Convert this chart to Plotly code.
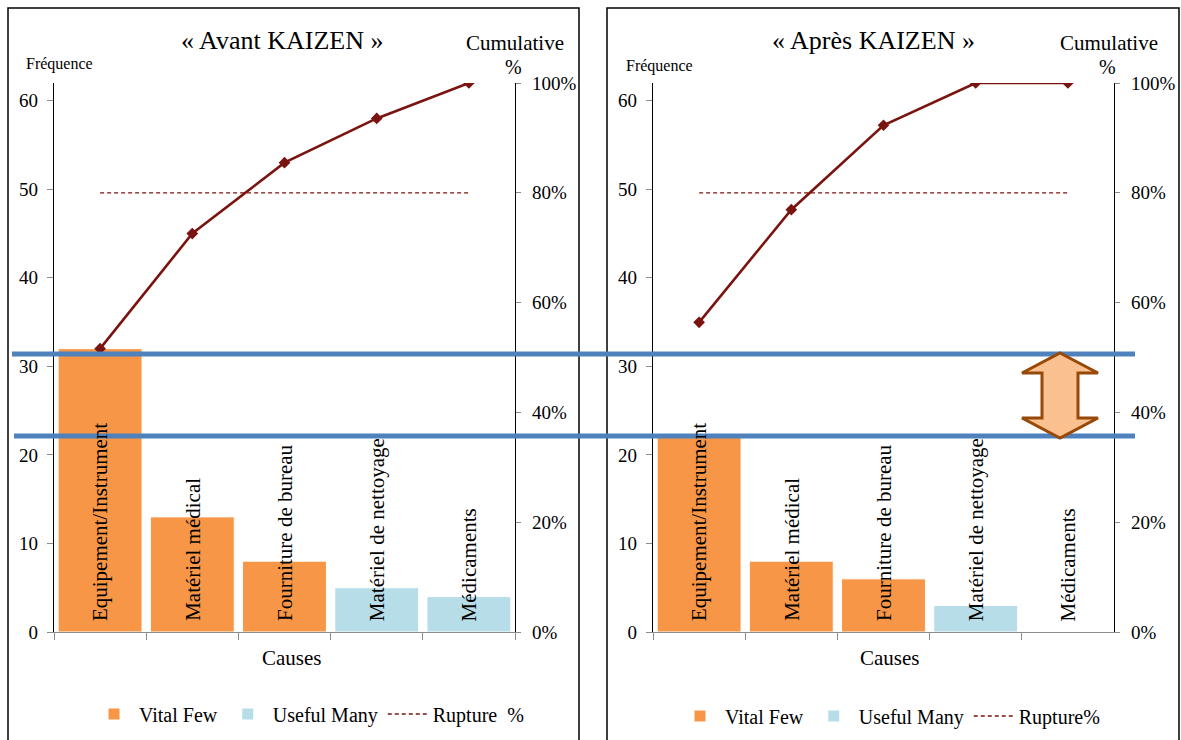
import numpy as np
import plotly.graph_objects as go

W, H = 1181, 740

causes = ["Equipement/Instrument", "Matériel médical", "Fourniture de bureau",
          "Matériel de nettoyage", "Médicaments"]
freq_avant = [32, 13, 8, 5, 4]
freq_apres = [22, 8, 6, 3, 0]
n_vital = 3              # first n causes are the "Vital Few"
rupture_level = 0.80     # Pareto break line
freq_ticks = [0, 10, 20, 30, 40, 50, 60]
pct_ticks = [0, 0.2, 0.4, 0.6, 0.8, 1.0]
pct_labels = ["0%", "20%", "40%", "60%", "80%", "100%"]
titles = ["« Avant KAIZEN »", "« Après KAIZEN »"]
rupture_names = ["Rupture  %", "Rupture%"]

ORANGE = "#F79646"
LBLUE = "#B7DDE8"
MAROON = "#7A1410"
BLUE = "#4F81BD"
FONT = "Liberation Serif"

freq_max = float(sum(freq_avant))  # left axis scaled to the "avant" total


def px(x):
    return x / W


def py(y):
    return 1 - y / H


fig = go.Figure()

panels = [
    dict(data=freq_avant, xa="x", ya="y", ya2="y2", legend="legend",
         dom=[px(54), px(515)]),
    dict(data=freq_apres, xa="x2", ya="y3", ya2="y4", legend="legend2",
         dom=[px(653), px(1114)]),
]

for i, p in enumerate(panels):
    vals = p["data"]
    cum = np.cumsum(vals) / np.sum(vals)
    fig.add_trace(go.Bar(x=causes[:n_vital], y=vals[:n_vital], name="Vital Few",
                         marker=dict(color=ORANGE, line=dict(color="white", width=1)),
                         xaxis=p["xa"], yaxis=p["ya"], legend=p["legend"]))
    fig.add_trace(go.Bar(x=causes[n_vital:], y=vals[n_vital:], name="Useful Many",
                         marker=dict(color=LBLUE, line=dict(color="white", width=1)),
                         xaxis=p["xa"], yaxis=p["ya"], legend=p["legend"]))
    fig.add_trace(go.Scatter(x=[causes[0], causes[-1]], y=[rupture_level, rupture_level],
                             mode="lines", name=rupture_names[i],
                             line=dict(color=MAROON, width=1.3, dash="4px,3px"),
                             xaxis=p["xa"], yaxis=p["ya2"], legend=p["legend"]))
    fig.add_trace(go.Scatter(x=causes, y=cum, mode="lines+markers", showlegend=False,
                             line=dict(color=MAROON, width=2.6),
                             marker=dict(symbol="diamond", size=9, color=MAROON),
                             xaxis=p["xa"], yaxis=p["ya2"]))
    # category labels inside the bars
    for c in causes:
        fig.add_annotation(x=c, y=0, xref=p["xa"], yref=p["ya"], text=c, textangle=-90,
                           showarrow=False, yanchor="bottom", xanchor="center", yshift=9,
                           font=dict(family=FONT, size=21, color="black"))

ydom = [py(632), py(83)]
xcommon = dict(type="category", categoryorder="array", categoryarray=causes,
               showticklabels=False, ticks="outside", tickson="boundaries", ticklen=7,
               tickcolor="#8c8c8c", showline=True, linecolor="#8c8c8c", linewidth=1,
               showgrid=False, zeroline=False, fixedrange=True)
yleft = dict(range=[0, freq_max], tickvals=freq_ticks, ticks="outside", ticklen=6,
             tickcolor="#8c8c8c", showline=True, linecolor="black", linewidth=1.3,
             showgrid=False, zeroline=False, domain=ydom, ticklabelstandoff=5,
             tickfont=dict(family=FONT, size=19, color="black"))
yright = dict(range=[0, 1], tickvals=pct_ticks, ticktext=pct_labels, side="right",
              ticks="outside", ticklen=5, tickcolor="#8c8c8c", showline=True,
              linecolor="black", linewidth=1.3, showgrid=False, zeroline=False,
              ticklabelstandoff=7,
              tickfont=dict(family=FONT, size=19, color="black"))

fig.update_layout(
    width=W, height=H, margin=dict(l=0, r=0, t=0, b=0, autoexpand=False),
    paper_bgcolor="white", plot_bgcolor="white",
    barmode="overlay", bargap=0.09,
    xaxis=dict(domain=panels[0]["dom"], anchor="y", **xcommon),
    xaxis2=dict(domain=panels[1]["dom"], anchor="y3", **xcommon),
    yaxis=dict(anchor="x", **yleft),
    yaxis2=dict(anchor="x", overlaying="y", **yright),
    yaxis3=dict(anchor="x2", **yleft),
    yaxis4=dict(anchor="x2", overlaying="y3", **yright),
    legend=dict(orientation="h", x=px(309), y=py(714), xanchor="center", yanchor="middle",
                font=dict(family=FONT, size=20, color="black"), itemwidth=40,
                bgcolor="rgba(0,0,0,0)"),
    legend2=dict(orientation="h", x=px(890), y=py(716), xanchor="center", yanchor="middle",
                 font=dict(family=FONT, size=20, color="black"), itemwidth=40,
                 bgcolor="rgba(0,0,0,0)"),
    showlegend=True,
)

# panel frames
for x0, x1 in [(8, 579), (607, 1179)]:
    fig.add_shape(type="rect", xref="paper", yref="paper", x0=px(x0), x1=px(x1),
                  y0=py(770), y1=py(8), line=dict(color="black", width=1.5),
                  fillcolor="rgba(0,0,0,0)", layer="below")


def label(x, y, text, size):
    fig.add_annotation(x=px(x), y=py(y), xref="paper", yref="paper", text=text,
                       showarrow=False, xanchor="center", yanchor="middle", align="center",
                       font=dict(family=FONT, size=size, color="black"))


label(282, 40, titles[0], 26)
label(873, 40, titles[1], 26)
for cx in [515, 1109]:
    label(cx, 43, "Cumulative", 21)
    label(cx - 2, 67, "%", 20)
label(59, 64, "Fréquence", 16)
label(660, 66, "Fréquence", 16)
label(292, 658, "Causes", 21)
label(890, 658, "Causes", 21)

# blue reference lines across both panels
for yy, xs in [(354, 12), (436, 14)]:
    fig.add_shape(type="line", xref="paper", yref="paper", x0=px(xs), x1=px(1135),
                  y0=py(yy), y1=py(yy), line=dict(color=BLUE, width=5), layer="above")

# double arrow
pts = [(1060, 353), (1098, 373), (1078, 373), (1078, 418), (1098, 418), (1060, 438),
       (1022, 418), (1042, 418), (1042, 373), (1022, 373)]
path = "M " + " L ".join(f"{px(a):.5f},{py(b):.5f}" for a, b in pts) + " Z"
fig.add_shape(type="path", xref="paper", yref="paper", path=path,
              fillcolor="#FAC090", line=dict(color="#984807", width=3), layer="above")

fig.write_html("out.html", config={"displayModeBar": False},
               post_script="document.body.style.margin='0';"
                           "document.body.style.overflow='hidden';")
